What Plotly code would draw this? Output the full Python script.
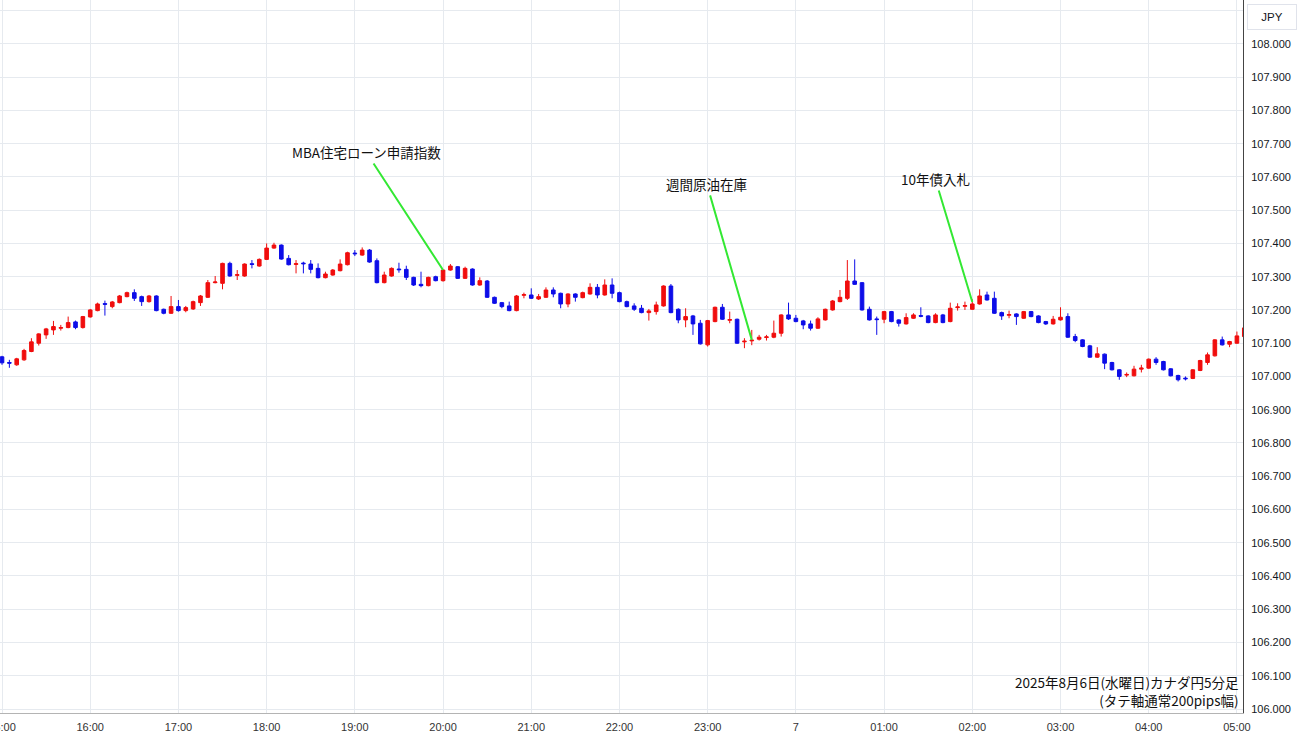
import pandas as pd
import plotly.graph_objects as go

# ---------------- data ----------------
start_time = "2025-08-06 15:00"
n_bars = 170

open_ = [107.059, 107.042, 107.035, 107.05, 107.075, 107.10, 107.125, 107.140, 107.145, 107.147,
         107.164, 107.147, 107.179, 107.198, 107.219, 107.21, 107.222, 107.24, 107.252, 107.24,
         107.225, 107.242, 107.202, 107.19, 107.21, 107.198, 107.203, 107.222, 107.238, 107.282,
         107.28, 107.34, 107.304, 107.302, 107.339, 107.332, 107.352, 107.386, 107.395, 107.355,
         107.337, 107.341, 107.338, 107.325, 107.297, 107.305, 107.318, 107.336, 107.371, 107.365,
         107.38, 107.348, 107.282, 107.302, 107.323, 107.322, 107.298, 107.277, 107.273, 107.30,
         107.288, 107.32, 107.33, 107.295, 107.323, 107.275, 107.287, 107.238, 107.222, 107.212,
         107.198, 107.244, 107.245, 107.233, 107.238, 107.26, 107.25, 107.218, 107.248, 107.237,
         107.248, 107.268, 107.245, 107.275, 107.252, 107.225, 107.212, 107.205, 107.192, 107.195,
         107.212, 107.272, 107.202, 107.17, 107.182, 107.16, 107.095, 107.165, 107.208, 107.169,
         107.172, 107.104, 107.107, 107.112, 107.117, 107.118, 107.13, 107.185, 107.175, 107.167,
         107.158, 107.145, 107.17, 107.20, 107.225, 107.235, 107.287, 107.282, 107.202, 107.173,
         107.172, 107.195, 107.17, 107.158, 107.175, 107.183, 107.182, 107.162, 107.185, 107.165,
         107.207, 107.211, 107.202, 107.218, 107.245, 107.235, 107.192, 107.184, 107.188, 107.175,
         107.195, 107.182, 107.165, 107.158, 107.17, 107.18, 107.12, 107.11, 107.092, 107.058,
         107.067, 107.042, 107.02, 107.004, 107.002, 107.022, 107.025, 107.052, 107.045, 107.023,
         107.003, 106.995, 106.994, 107.018, 107.042, 107.062, 107.11, 107.097, 107.10, 107.12]

close_ = [107.041, 107.040, 107.053, 107.078, 107.104, 107.128, 107.143, 107.150, 107.147, 107.162,
          107.147, 107.18, 107.20, 107.218, 107.217, 107.224, 107.242, 107.252, 107.235, 107.225,
          107.242, 107.198, 107.19, 107.21, 107.198, 107.207, 107.225, 107.242, 107.282, 107.284,
          107.34, 107.302, 107.306, 107.338, 107.337, 107.352, 107.386, 107.395, 107.353, 107.336,
          107.339, 107.339, 107.322, 107.297, 107.308, 107.32, 107.338, 107.372, 107.369, 107.38,
          107.344, 107.282, 107.305, 107.325, 107.321, 107.298, 107.275, 107.273, 107.298, 107.288,
          107.32, 107.332, 107.295, 107.325, 107.275, 107.288, 107.238, 107.22, 107.21, 107.198,
          107.242, 107.246, 107.235, 107.24, 107.26, 107.248, 107.218, 107.248, 107.238, 107.252,
          107.268, 107.245, 107.275, 107.25, 107.225, 107.21, 107.202, 107.192, 107.197, 107.215,
          107.272, 107.192, 107.17, 107.18, 107.158, 107.098, 107.168, 107.208, 107.172, 107.171,
          107.10, 107.106, 107.109, 107.118, 107.119, 107.13, 107.185, 107.173, 107.165, 107.155,
          107.145, 107.173, 107.202, 107.227, 107.238, 107.287, 107.277, 107.20, 107.17, 107.171,
          107.195, 107.165, 107.16, 107.177, 107.185, 107.181, 107.162, 107.185, 107.162, 107.205,
          107.209, 107.213, 107.218, 107.242, 107.23, 107.19, 107.182, 107.186, 107.18, 107.195,
          107.18, 107.162, 107.158, 107.172, 107.178, 107.118, 107.108, 107.09, 107.058, 107.068,
          107.04, 107.02, 107.0, 107.006, 107.022, 107.025, 107.052, 107.042, 107.02, 107.002,
          106.99, 106.993, 107.02, 107.048, 107.065, 107.11, 107.095, 107.105, 107.122, 107.146]

high_ = [107.062, 107.05, 107.056, 107.083, 107.115, 107.13, 107.146, 107.167, 107.155, 107.18,
         107.168, 107.182, 107.203, 107.222, 107.228, 107.227, 107.245, 107.255, 107.262, 107.243,
         107.245, 107.244, 107.204, 107.242, 107.23, 107.212, 107.228, 107.245, 107.29, 107.302,
         107.342, 107.345, 107.32, 107.34, 107.35, 107.355, 107.40, 107.402, 107.397, 107.365,
         107.35, 107.345, 107.35, 107.34, 107.315, 107.323, 107.352, 107.375, 107.38, 107.388,
         107.383, 107.355, 107.315, 107.328, 107.342, 107.333, 107.30, 107.315, 107.30, 107.303,
         107.322, 107.338, 107.332, 107.33, 107.325, 107.298, 107.29, 107.24, 107.224, 107.225,
         107.245, 107.252, 107.265, 107.248, 107.268, 107.268, 107.252, 107.25, 107.25, 107.255,
         107.28, 107.278, 107.292, 107.295, 107.255, 107.228, 107.22, 107.215, 107.203, 107.225,
         107.274, 107.278, 107.205, 107.205, 107.185, 107.17, 107.17, 107.21, 107.218, 107.195,
         107.174, 107.115, 107.14, 107.125, 107.125, 107.168, 107.187, 107.222, 107.185, 107.17,
         107.168, 107.178, 107.204, 107.23, 107.26, 107.35, 107.352, 107.284, 107.21, 107.18,
         107.197, 107.197, 107.172, 107.19, 107.19, 107.208, 107.184, 107.19, 107.188, 107.222,
         107.22, 107.225, 107.232, 107.262, 107.255, 107.255, 107.195, 107.198, 107.19, 107.197,
         107.197, 107.184, 107.167, 107.182, 107.208, 107.19, 107.128, 107.112, 107.095, 107.088,
         107.069, 107.044, 107.022, 107.012, 107.032, 107.035, 107.054, 107.058, 107.047, 107.025,
         107.005, 107.0, 107.022, 107.05, 107.072, 107.112, 107.12, 107.107, 107.135, 107.15]

low_ = [107.035, 107.026, 107.032, 107.047, 107.073, 107.093, 107.113, 107.125, 107.138, 107.145,
        107.142, 107.144, 107.177, 107.196, 107.183, 107.205, 107.22, 107.238, 107.227, 107.212,
        107.222, 107.196, 107.187, 107.188, 107.195, 107.193, 107.2, 107.212, 107.236, 107.28,
        107.262, 107.30, 107.29, 107.30, 107.325, 107.33, 107.35, 107.384, 107.351, 107.334,
        107.31, 107.31, 107.31, 107.295, 107.295, 107.303, 107.316, 107.334, 107.362, 107.363,
        107.342, 107.28, 107.28, 107.30, 107.312, 107.29, 107.272, 107.268, 107.271, 107.286,
        107.285, 107.318, 107.293, 107.293, 107.273, 107.273, 107.236, 107.218, 107.205, 107.196,
        107.196, 107.235, 107.233, 107.23, 107.236, 107.238, 107.205, 107.208, 107.225, 107.235,
        107.246, 107.235, 107.243, 107.235, 107.223, 107.208, 107.197, 107.19, 107.168, 107.186,
        107.21, 107.19, 107.16, 107.148, 107.125, 107.096, 107.09, 107.163, 107.17, 107.16,
        107.098, 107.085, 107.094, 107.108, 107.108, 107.115, 107.12, 107.17, 107.163, 107.142,
        107.138, 107.143, 107.168, 107.198, 107.223, 107.23, 107.275, 107.198, 107.168, 107.125,
        107.16, 107.163, 107.15, 107.156, 107.173, 107.178, 107.16, 107.16, 107.16, 107.163,
        107.198, 107.2, 107.2, 107.216, 107.228, 107.188, 107.17, 107.175, 107.155, 107.173,
        107.178, 107.16, 107.155, 107.156, 107.168, 107.116, 107.103, 107.088, 107.056, 107.056,
        107.022, 107.018, 106.99, 106.998, 107.0, 107.012, 107.023, 107.035, 107.018, 107.0,
        106.985, 106.988, 106.992, 107.016, 107.035, 107.06, 107.093, 107.088, 107.098, 107.118]

hour_ticks = ["2025-08-06 15:00", "2025-08-06 16:00", "2025-08-06 17:00", "2025-08-06 18:00",
              "2025-08-06 19:00", "2025-08-06 20:00", "2025-08-06 21:00", "2025-08-06 22:00",
              "2025-08-06 23:00", "2025-08-07 00:00", "2025-08-07 01:00", "2025-08-07 02:00",
              "2025-08-07 03:00", "2025-08-07 04:00", "2025-08-07 05:00"]
hour_labels = ["15:00", "16:00", "17:00", "18:00", "19:00", "20:00", "21:00", "22:00",
               "23:00", "7", "01:00", "02:00", "03:00", "04:00", "05:00"]

price_ticks = [round(106.0 + 0.1 * i, 1) for i in range(22)]
price_labels = [f"{v:.3f}" for v in price_ticks[:-1]] + [""]

events = ["MBA住宅ローン申請指数", "週間原油在庫", "10年債入札"]
event_times = ["2025-08-06 20:00", "2025-08-06 23:30", "2025-08-07 02:00"]
event_prices = [107.320, 107.110, 107.224]

title_text = "2025年8月6日(水曜日)カナダ円5分足<br>(タテ軸通常200pips幅)"
currency = "JPY"

# ---------------- figure ----------------
times = pd.date_range(start_time, periods=n_bars, freq="5min")

UP = "#f00d0d"
DOWN = "#0d0de8"
GRID = "#e6eaef"
JP_FONT = "Noto Sans CJK JP, Noto Sans, sans-serif"

fig = go.Figure(go.Candlestick(
    x=times, open=open_, high=high_, low=low_, close=close_,
    increasing=dict(line=dict(color=UP, width=1), fillcolor=UP),
    decreasing=dict(line=dict(color=DOWN, width=1), fillcolor=DOWN),
    whiskerwidth=0, showlegend=False,
))

ann = []
offsets = [(-77, -118), (-45, -156), (-37, -123)]
for txt, t, p, (ax, ay) in zip(events, event_times, event_prices, offsets):
    ann.append(dict(x=t, y=p, xref="x", yref="y", text=txt, showarrow=True,
                    arrowhead=0, arrowwidth=2, arrowcolor="#33e833",
                    ax=ax, ay=ay, font=dict(family=JP_FONT, size=13.5, color="#111111")))

ann.append(dict(x=1.0, y=0.0, xref="paper", yref="paper", xanchor="right", yanchor="bottom",
                xshift=-2, yshift=1, text=title_text, showarrow=False, align="right",
                font=dict(family=JP_FONT, size=13.5, color="#111111")))
ann.append(dict(x=1.0233, y=0.9765, xref="paper", yref="paper", xanchor="center", yanchor="middle",
                text=currency, showarrow=False, bgcolor="#ffffff", bordercolor="#e0e3eb",
                borderwidth=1, width=46, height=22,
                font=dict(family="Liberation Sans, Arial, sans-serif", size=11.5, color="#131722")))

fig.update_layout(
    width=1300, height=745,
    margin=dict(l=0, r=57, t=0, b=32),
    paper_bgcolor="#ffffff", plot_bgcolor="#ffffff",
    annotations=ann,
    xaxis=dict(
        type="date", automargin=False,
        range=["2025-08-06 14:58:38", "2025-08-07 05:04:08"],
        tickvals=hour_ticks, ticktext=hour_labels,
        showgrid=True, gridcolor=GRID, gridwidth=1,
        showline=True, linecolor="#b4b4b4", linewidth=1,
        ticks="", ticklabeloverflow="allow", ticklabelstandoff=4,
        tickfont=dict(family="Liberation Sans, Arial, sans-serif", size=11, color="#333333"),
        rangeslider=dict(visible=False), zeroline=False,
    ),
    yaxis=dict(
        side="right", automargin=False,
        range=[105.988, 108.132],
        tickvals=price_ticks, ticktext=price_labels,
        showgrid=True, gridcolor=GRID, gridwidth=1,
        showline=True, linecolor="#444444", linewidth=1,
        ticks="", zeroline=False, ticklabelstandoff=5,
        tickfont=dict(family="Liberation Sans, Arial, sans-serif", size=11, color="#131722"),
    ),
)

fig.write_html(
    "out.html",
    config={"displayModeBar": False},
    post_script="document.body.style.margin='0';document.body.style.overflow='hidden';",
)
